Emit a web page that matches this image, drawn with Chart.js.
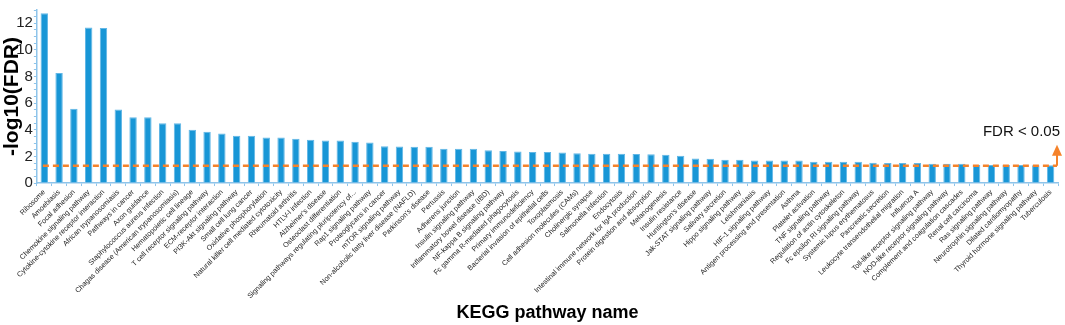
<!DOCTYPE html>
<html>
<head>
<meta charset="utf-8">
<script src="https://cdn.jsdelivr.net/npm/chart.js@4"></script>
<style>
  html, body { margin: 0; padding: 0; background: #fff; }
  #wrap { width: 1065px; height: 325px; }
</style>
</head>
<body>
<div id="wrap"><canvas id="keggChart" width="1065" height="325"></canvas></div>
<script>
// * KEGG pathways, sorted by significance
const pathways = [
  "Ribosome", "Amoebiasis", "Focal adhesion", "Chemokine signaling pathway",
  "Cytokine-cytokine receptor interaction", "African trypanosomiasis", "Pathways in cancer",
  "Axon guidance", "Staphylococcus aureus infection", "Chagas disease (American trypanosomiasis)",
  "Hematopoietic cell lineage", "T cell receptor signaling pathway", "ECM-receptor interaction",
  "PI3K-Akt signaling pathway", "Small cell lung cancer", "Oxidative phosphorylation",
  "Natural killer cell mediated cytotoxicity", "Rheumatoid arthritis", "HTLV-I infection",
  "Alzheimer's disease", "Osteoclast differentiation",
  "Signaling pathways regulating pluripotency of...", "Rap1 signaling pathway",
  "Proteoglycans in cancer", "mTOR signaling pathway",
  "Non-alcoholic fatty liver disease (NAFLD)", "Parkinson's disease", "Pertussis",
  "Adherens junction", "Insulin signaling pathway", "Inflammatory bowel disease (IBD)",
  "NF-kappa B signaling pathway", "Fc gamma R-mediated phagocytosis", "Primary immunodeficiency",
  "Bacterial invasion of epithelial cells", "Toxoplasmosis", "Cell adhesion molecules (CAMs)",
  "Cholinergic synapse", "Salmonella infection", "Endocytosis",
  "Intestinal immune network for IgA production", "Protein digestion and absorption",
  "Melanogenesis", "Insulin resistance", "Huntington's disease", "Jak-STAT signaling pathway",
  "Salivary secretion", "Hippo signaling pathway", "Leishmaniasis", "HIF-1 signaling pathway",
  "Antigen processing and presentation", "Asthma", "Platelet activation",
  "TNF signaling pathway", "Regulation of actin cytoskeleton", "Fc epsilon RI signaling pathway",
  "Systemic lupus erythematosus", "Pancreatic secretion",
  "Leukocyte transendothelial migration", "Influenza A", "Toll-like receptor signaling pathway",
  "NOD-like receptor signaling pathway", "Complement and coagulation cascades",
  "Renal cell carcinoma", "Ras signaling pathway", "Neurotrophin signaling pathway",
  "Dilated cardiomyopathy", "Thyroid hormone signaling pathway", "Tuberculosis"
];

// * -log10(FDR) per pathway
const negLogFdr = [
  12.75, 8.27, 5.58, 11.69, 11.64, 5.53, 4.95, 4.95, 4.5, 4.5,
  4.0, 3.85, 3.73, 3.56, 3.56, 3.42, 3.42, 3.32, 3.25, 3.2,
  3.2, 3.1, 3.05, 2.76, 2.74, 2.72, 2.72, 2.57, 2.57, 2.57,
  2.47, 2.4, 2.38, 2.33, 2.33, 2.3, 2.23, 2.2, 2.2, 2.2,
  2.18, 2.16, 2.13, 2.06, 1.84, 1.82, 1.75, 1.75, 1.7, 1.7,
  1.7, 1.7, 1.6, 1.6, 1.6, 1.6, 1.53, 1.5, 1.5, 1.5,
  1.45, 1.45, 1.45, 1.36, 1.36, 1.36, 1.36, 1.33, 1.33
];

const yTickLabels = [0, 2, 4, 6, 8, 10, 12];
const fdrCutoff = 1.3; // -log10(0.05)
const cutoffLabel = "FDR < 0.05";

const axisColor = "#8ec4ea";
const orange = "#f5822a";
const mainFont = "'Liberation Sans', Arial, sans-serif";

// ? dashed FDR line with arrow
const cutoffLine = {
  id: "cutoffLine",
  afterDatasetsDraw(chart) {
    const ctx = chart.ctx;
    const { left, right } = chart.chartArea;
    const y = chart.scales.y.getPixelForValue(fdrCutoff);
    const x0 = left + 6;
    const x1 = right - 1;
    ctx.save();
    ctx.strokeStyle = orange;
    ctx.lineWidth = 2.5;
    ctx.setLineDash([6, 4]);
    ctx.beginPath();
    ctx.moveTo(x0, y);
    ctx.lineTo(x1, y);
    ctx.stroke();
    ctx.setLineDash([]);
    ctx.lineWidth = 2;
    ctx.beginPath();
    ctx.moveTo(x1, y);
    ctx.lineTo(x1, y - 12);
    ctx.stroke();
    ctx.fillStyle = orange;
    ctx.beginPath();
    ctx.moveTo(x1, y - 21);
    ctx.lineTo(x1 - 5, y - 10);
    ctx.lineTo(x1 + 5, y - 10);
    ctx.closePath();
    ctx.fill();
    ctx.fillStyle = "#111";
    ctx.font = "15px " + mainFont;
    ctx.textAlign = "right";
    ctx.textBaseline = "middle";
    ctx.fillText(cutoffLabel, x1 + 3, y - 34);
    ctx.restore();
  },
};

const ctx = document.getElementById("keggChart").getContext("2d");
const keggChart = new Chart(ctx, {
  type: "bar",
  data: {
    labels: pathways,
    datasets: [
      {
        data: negLogFdr,
        backgroundColor: "#1896d6",
        borderColor: "#62b7e6",
        borderWidth: 1,
        barPercentage: 0.5,
        categoryPercentage: 1,
      },
    ],
  },
  options: {
    responsive: false,
    animation: false,
    layout: { padding: { top: 3, right: 7, left: 0, bottom: 0 } },
    plugins: {
      legend: { display: false },
      tooltip: { enabled: false },
    },
    scales: {
      x: {
        grid: {
          drawOnChartArea: false,
          color: axisColor,
          tickLength: 3,
        },
        border: { color: axisColor, width: 1.5 },
        ticks: {
          autoSkip: false,
          minRotation: 45,
          maxRotation: 45,
          padding: 2,
          color: "#222",
          font: { family: mainFont, size: 7.2 },
        },
        title: {
          display: true,
          text: "KEGG pathway name",
          color: "#000",
          padding: { top: 0, bottom: 1 },
          font: { family: mainFont, size: 18, weight: "bold" },
        },
      },
      y: {
        min: 0,
        max: 13,
        grid: {
          drawOnChartArea: false,
          color: axisColor,
          tickLength: 3,
        },
        border: { color: axisColor, width: 1.5 },
        ticks: {
          stepSize: 0.5,
          autoSkip: false,
          padding: 1,
          color: "#222",
          font: { family: mainFont, size: 15 },
          callback: (v) => (yTickLabels.includes(v) ? v : ""),
        },
        title: {
          display: true,
          text: "-log10(FDR)",
          color: "#000",
          padding: { top: 0, bottom: -10 },
          font: { family: mainFont, size: 21, weight: "bold" },
        },
      },
    },
  },
  plugins: [cutoffLine],
});
</script>
</body>
</html>
